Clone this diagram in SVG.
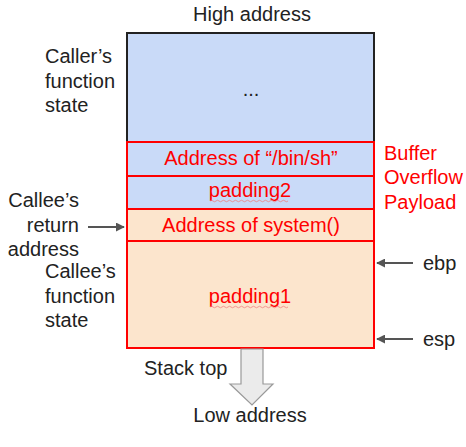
<svg xmlns="http://www.w3.org/2000/svg" width="466" height="447" viewBox="0 0 466 447">
<defs>
<style>
.t{font-family:"Liberation Sans",Arial,sans-serif;font-size:20px;fill:#222}
.r{font-family:"Liberation Sans",Arial,sans-serif;font-size:20px;fill:#ff0000}
.c{text-anchor:middle}
.e{text-anchor:end}
.blue{fill:#c9daf8}
.peach{fill:#fce5cd}
.red{fill:none;stroke:#ff0000;stroke-width:2}
.ptr{stroke:#555;stroke-width:1.8;fill:none}
.wavy{fill:none;stroke:#f08080;stroke-width:0.8}
</style>
<marker id="ah" viewBox="0 0 10 10" refX="9" refY="5" markerWidth="5" markerHeight="5" orient="auto">
<path d="M0,0 L10,5 L0,10 z" fill="#555"/>
</marker>
</defs>
<rect width="466" height="447" fill="#fff"/>
<text class="t c" x="252" y="21">High address</text>
<g id="caller">
<rect x="127" y="33" width="247" height="109" class="blue" stroke="#222" stroke-width="2"/>
<text class="t c" x="251" y="96">...</text>
</g>
<g id="binsh">
<rect x="127" y="142" width="247" height="34" class="blue"/>
<rect x="127" y="142" width="247" height="34" class="red"/>
<text class="r c" x="251" y="165">Address of “/bin/sh”</text>
</g>
<g id="padding2">
<rect x="127" y="176" width="247" height="33" class="blue"/>
<rect x="127" y="176" width="247" height="33" class="red"/>
<text class="r c" x="250" y="197">padding2</text>
<path class="wavy" d="M210,201 q1.5,-1.5 3,0 t3,0 t3,0 t3,0 t3,0 t3,0 t3,0 t3,0 t3,0 t3,0 t3,0 t3,0 t3,0 t3,0 t3,0 t3,0 t3,0 t3,0 t3,0 t3,0 t3,0 t3,0 t3,0 t3,0 t3,0 t3,0"/>
</g>
<g id="system">
<rect x="127" y="209" width="247" height="32" class="peach"/>
<rect x="127" y="209" width="247" height="32" class="red"/>
<text class="r c" x="251" y="232">Address of system()</text>
</g>
<g id="padding1">
<rect x="127" y="241" width="247" height="107" class="peach"/>
<rect x="127" y="241" width="247" height="107" class="red"/>
<text class="r c" x="250" y="303">padding1</text>
<path class="wavy" d="M210,307 q1.5,-1.5 3,0 t3,0 t3,0 t3,0 t3,0 t3,0 t3,0 t3,0 t3,0 t3,0 t3,0 t3,0 t3,0 t3,0 t3,0 t3,0 t3,0 t3,0 t3,0 t3,0 t3,0 t3,0 t3,0 t3,0 t3,0 t3,0"/>
</g>
<g id="labels">
<text class="t" x="45" y="63">Caller’s</text>
<text class="t" x="45" y="88">function</text>
<text class="t" x="45" y="112">state</text>
<text class="t e" x="79" y="207">Callee’s</text>
<text class="t e" x="79" y="232">return</text>
<text class="t e" x="79" y="256">address</text>
<text class="t" x="45" y="278">Callee’s</text>
<text class="t" x="45" y="303">function</text>
<text class="t" x="45" y="327">state</text>
<text class="r" x="384" y="160">Buffer</text>
<text class="r" x="384" y="184">Overflow</text>
<text class="r" x="384" y="209">Payload</text>
<text class="t" x="423" y="270">ebp</text>
<text class="t" x="423" y="346">esp</text>
<text class="t" x="144" y="375">Stack top</text>
<text class="t c" x="250" y="422">Low address</text>
</g>
<g id="connectors">
<line class="ptr" x1="88" y1="227" x2="124" y2="227" marker-end="url(#ah)"/>
<line class="ptr" x1="413" y1="263" x2="377" y2="263" marker-end="url(#ah)"/>
<line class="ptr" x1="413" y1="339" x2="377" y2="339" marker-end="url(#ah)"/>
<path d="M241,349 L263,349 L263,384 L273,384 L252,405 L230,384 L241,384 Z" fill="#ebebeb" stroke="#999" stroke-width="1.2"/>
</g>
</svg>
